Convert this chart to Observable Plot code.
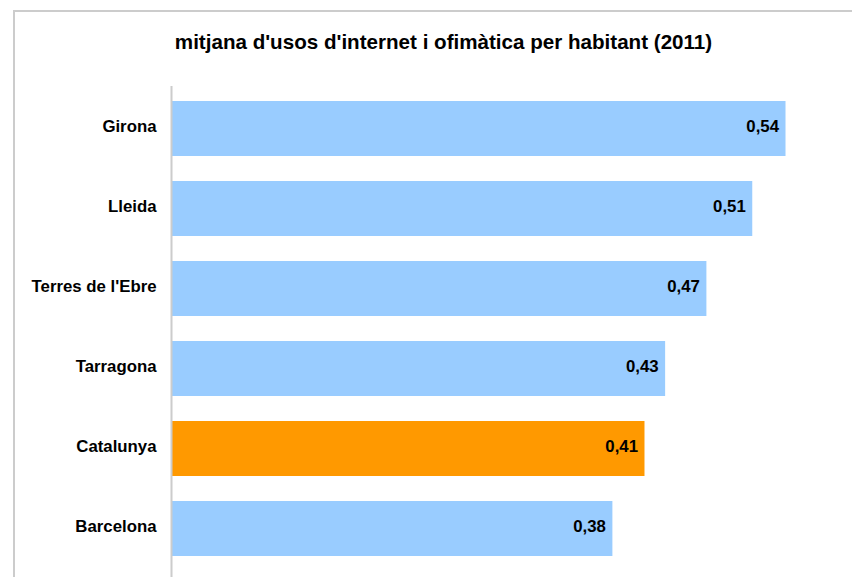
<!DOCTYPE html>
<html>
<head>
<meta charset="utf-8">
<script src="https://cdn.jsdelivr.net/npm/d3@7"></script>
<script src="https://cdn.jsdelivr.net/npm/@observablehq/plot@0.6"></script>
<style>
  html, body { margin: 0; padding: 0; background: #fff; overflow: hidden; }
  #wrap { position: relative; width: 852px; height: 577px; overflow: hidden; font-family: "Liberation Sans", Arial, sans-serif; }
  #border { position: absolute; left: 13px; top: 10px; width: 900px; height: 700px; border-left: 2px solid #cccccc; border-top: 2px solid #cccccc; box-sizing: border-box; }
  #title { position: relative; height: 70px; width: 887px; text-align: center; font-weight: bold; font-size: 20.6px; line-height: 20px; color: #000; }
  #title span { position: absolute; left: 0; right: 0; top: 32px; }
  #chart { position: relative; }
</style>
</head>
<body>
<div id="wrap">
  <div id="border"></div>
  <div id="title"><span>mitjana d'usos d'internet i ofimàtica per habitant (2011)</span></div>
  <div id="chart"></div>
</div>
<script>
const categories = ["Girona", "Lleida", "Terres de l'Ebre", "Tarragona", "Catalunya", "Barcelona"];
const values = [0.536, 0.507, 0.467, 0.431, 0.413, 0.385];
const valueLabels = ["0,54", "0,51", "0,47", "0,43", "0,41", "0,38"];
const barColors = ["#99CCFF", "#99CCFF", "#99CCFF", "#99CCFF", "#FF9900", "#99CCFF"];

const data = categories.map((c, i) => ({name: c, value: values[i], label: valueLabels[i], color: barColors[i]}));

const chart = Plot.plot({
  width: 852,
  height: 507,
  marginLeft: 171,
  marginRight: 0,
  marginTop: 16,
  marginBottom: 0,
  style: {fontFamily: "'Liberation Sans', Arial, sans-serif", color: "#000", background: "transparent", overflow: "visible"},
  x: {domain: [0, 0.594], axis: null},
  y: {domain: categories, paddingInner: 0.318, paddingOuter: 0.205, align: 0.41, label: null},
  marks: [
    Plot.barX(data, {x: "value", y: "name", fill: "color"}),
    Plot.ruleX([0], {stroke: "#cccccc", strokeWidth: 2}),
    Plot.axisY({tickSize: 0, tickPadding: 15, dy: -2, fontSize: 16.8, fontWeight: "bold", fill: "#000", label: null}),
    Plot.text(data, {x: "value", y: "name", text: "label", textAnchor: "end", dx: -7, dy: -2, fontSize: 16.8, fontWeight: "bold", fill: "#000"})
  ]
});
document.getElementById("chart").appendChild(chart);
</script>
</body>
</html>
